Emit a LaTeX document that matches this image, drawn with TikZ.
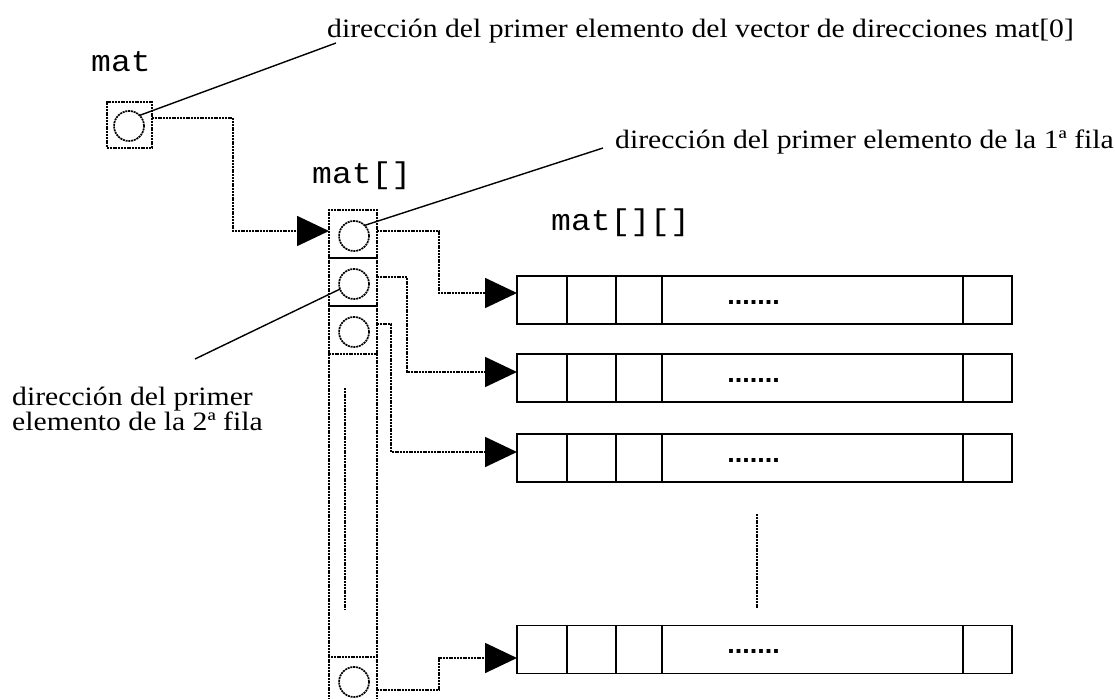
\documentclass[tikz,border=0pt]{standalone}
\usepackage{fontspec}
\setmainfont{Liberation Serif}[FakeStretch=1.12]
\setmonofont{Liberation Mono}[FakeStretch=1.1]
\newfontfamily\dotfont{Liberation Sans}
\usetikzlibrary{arrows.meta,calc}
\begin{document}
\begin{tikzpicture}[x=1pt,y=-1pt,
  dotl/.style={line width=1.7pt, dash pattern=on 2pt off 0.8pt},
  ptr/.style={dotl, -{Triangle[length=32pt,width=30pt]}},
  lead/.style={line width=1.4pt},
  cellbox/.style={draw, dotl, minimum width=48pt, minimum height=48pt, inner sep=0pt, outer sep=0pt},
  ring/.style={draw, dotl, circle, minimum size=30pt, inner sep=0pt, outer sep=0pt},
  rowbox/.style={draw, line width=1.8pt, minimum width=495pt, minimum height=48pt, inner sep=0pt, outer sep=0pt},
  lbl/.style={font=\fontsize{26.5}{26.5}\selectfont, inner sep=0pt, anchor=base west},
  code/.style={font=\ttfamily\fontsize{30}{30}\selectfont, inner sep=0pt, anchor=base west},
  dotsfill/.style={font=\dotfont\bfseries\fontsize{27}{27}\selectfont, inner sep=0pt}]
\useasboundingbox (0,0) rectangle (1115,698);

% labels
\node[code] (lmat) at (91,72) {mat};
\node[code] (lmat1) at (312,183) {mat[]};
\node[code] (lmat2) at (551,230) {mat[][]};
\node[lbl] (t0) at (327,38) {dirección del primer elemento del vector de direcciones mat[0]};
\node[lbl] (t1) at (615,148) {dirección del primer elemento de la 1ª fila};
\node[lbl, anchor=north west, align=left, font=\fontsize{26.5}{24.5}\selectfont] (t2) at (12,387) {dirección del primer\\elemento de la 2ª fila};

% mat
\node[cellbox, minimum width=45pt, minimum height=46pt] (mb) at (129.5,125) {};
\node[ring] (m0) at (129,126) {};

% mat[] column
\node[cellbox] (c1) at (353,234) {};
\node[cellbox] (c2) at (353,282) {};
\node[cellbox] (c3) at (353,330) {};
\node[cellbox] (c4) at (353,681) {};
\node[ring] (o1) at (354,236) {};
\node[ring] (o2) at (354,284) {};
\node[ring] (o3) at (354,332) {};
\node[ring] (o4) at (354,682) {};
\draw[dotl] (c3.south west) -- (c4.north west);
\draw[dotl] (c3.south east) -- (c4.north east);
\draw[dotl] (345,388) -- (345,610);

% rows
\node[rowbox] (r1) at (764.5,300) {};
\node[rowbox] (r2) at (764.5,378) {};
\node[rowbox] (r3) at (764.5,458) {};
\node[rowbox] (r4) at (764.5,649.5) {};
\foreach \r in {r1,r2,r3,r4}{
  \foreach \x in {50,99,145,446}{
    \draw[line width=1.8pt] ([xshift=\x pt]\r.north west) -- ([xshift=\x pt]\r.south west);
  }
  \node[dotsfill] at ([xshift=-11pt,yshift=-2pt]\r.center) {.......};
}
\draw[dotl] (757,514) -- (757,609);

% pointers
\draw[ptr] ([yshift=7pt]mb.east) -| ([xshift=-96pt,yshift=3pt]c1.west) -- ([yshift=3pt]c1.west);
\draw[ptr] ([yshift=3pt]c1.east) -| ([xshift=-78pt,yshift=7pt]r1.west) -- ([yshift=7pt]r1.west);
\draw[ptr] ([yshift=5pt]c2.east) -| ([xshift=-110pt,yshift=6pt]r2.west) -- ([yshift=6pt]r2.west);
\draw[ptr] ([yshift=6pt]c3.east) -| ([xshift=-126pt,yshift=6pt]r3.west) -- ([yshift=6pt]r3.west);
\draw[ptr] ([yshift=-9pt]c4.east) -| ([xshift=-78pt,yshift=-8.5pt]r4.west) -- ([yshift=-8.5pt]r4.west);

% leader lines
\coordinate (l2end) at (195,359);
\draw[lead] (m0.north east) -- ([shift={(9pt,-5pt)}]t0.base west);
\draw[lead] (o1.north east) -- ([xshift=-12pt]t1.base west);
\draw[lead] (o2.200) -- (l2end);
\end{tikzpicture}
\end{document}
